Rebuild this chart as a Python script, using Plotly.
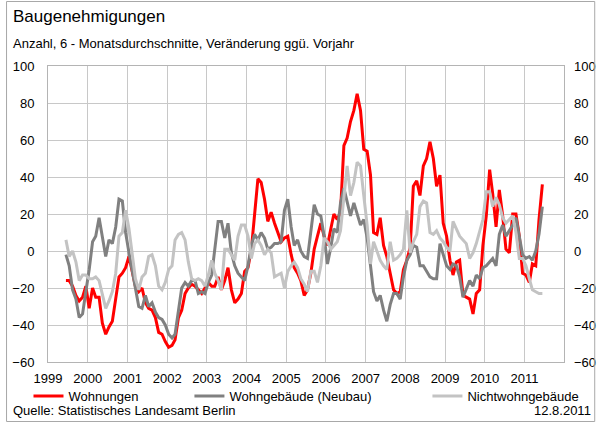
import plotly.graph_objects as go

# Monthly observations, June 1999 to June 2011 (change vs. previous year, %)
start_year, start_month, n_months = 1999, 6, 145
months = []
y, m = start_year, start_month
for _ in range(n_months):
    months.append(f"{y}-{m:02d}-15")
    m += 1
    if m > 12:
        m, y = 1, y + 1

wohnungen = [
    -16, -16, -19, -24, -27, -25, -19,                       # 1999
    -31, -20, -25, -25, -39, -45, -41, -38, -27, -14, -12, -9,  # 2000
    -3, -12, -19, -22, -20, -28, -31, -32, -36, -44, -45, -49,  # 2001
    -52, -51, -48, -36, -32, -23, -20, -18, -19, -21, -23, -20,  # 2002
    -17, -19, -19, -14, -21, -16, -9, -21, -28, -26, -23, -11,  # 2003
    -9, 1, 21, 39, 37, 28, 16, 21, 15, 10, 5, 7,                # 2004
    8, -2, -9, -12, -16, -24, -21, -12, 1, 8, 15, 8,            # 2005
    3, 12, 20, 17, 21, 57, 61, 70, 76, 85, 76, 55,              # 2006
    54, 41, 10, 9, 18, 3, -3, -12, -21, -23, -22, -10,          # 2007
    -5, 2, 35, 38, 30, 46, 50, 59, 50, 35, 41, 15,              # 2008
    8, -5, -13, -6, -5, -24, -25, -26, -34, -23, -21, 3,        # 2009
    19, 44, 31, 13, 33, 19, 1, -1, 20, 20, 8, -12,              # 2010
    -13, -17, -7, -8, 17, 36,                                   # 2011
]

wohngebaeude = [
    -2, -8, -21, -26, -36, -34, -22,                            # 1999
    -10, 5, 8, 18, 8, -3, 6, 4, 13, 28, 27, 10,                 # 2000
    -1, -11, -20, -30, -31, -24, -30, -28, -33, -36, -37, -40,  # 2001
    -45, -47, -45, -31, -20, -17, -19, -16, -16, -23, -22, -23,  # 2002
    -17, -13, 0, 16, 16, 7, 15, -1, -8, -12, -14, -16,          # 2003
    -8, 3, 9, 6, 10, 7, 1, 2, 4, 4, 5, 22,                      # 2004
    28, 13, 3, 6, 0, -3, -4, 12, 25, 20, 19, 8,                 # 2005
    -7, 2, 12, 10, 26, 34, 26, 19, 26, 20, 14, 17,              # 2006
    7, -8, -22, -27, -24, -32, -38, -29, -23, -23, -26, -14,    # 2007
    -5, -2, 3, 2, -8, -8, -11, -14, -15, -15, 4, -2,            # 2008
    -8, -10, -7, -8, -14, -25, -21, -16, -19, -13, -15, -9,     # 2009
    -8, -6, -4, -8, 9, 14, 8, 11, 14, 18, 8, -2,                # 2010
    -4, -3, -5, 0, 9, 24,                                       # 2011
]

nichtwohngebaeude = [
    6, -3, 0, -6, -16, -13, -13,                                # 1999
    -15, -15, -14, -16, -24, -31, -27, -22, -12, 8, 10, 22,     # 2000
    12, -3, -15, -21, -14, -12, -3, -2, -8, -19, -21, -17,      # 2001
    -10, -8, 6, 9, 10, 6, -6, -15, -16, -15, -16, -19,          # 2002
    -13, -5, -12, -16, -21, 1, 1, -2, -5, 8, 14, 14,            # 2003
    8, -4, 4, 6, 3, -2, 1, -1, -14, -13, -12, -20,              # 2004
    -11, -8, -6, -9, -15, -18, -22, -11, -11, -17, -8, 7,       # 2005
    5, 1, 3, 5, 11, 27, 46, 30, 37, 48, 46, 30,                 # 2006
    14, -7, 5, 0, -5, -8, -10, 5, -5, -4, -2, 1,                # 2007
    22, -1, 5, 9, 24, 27, 26, 10, 9, 11, 7, 5,                  # 2008
    2, 0, 16, 12, 8, 6, 4, -4, -1, 4, 10, 17,                   # 2009
    32, 32, 24, 29, 25, 18, 15, 17, 19, 10, -4, -4,             # 2010
    -8, -15, -21, -22, -23, -23,                                # 2011
]

series_names = ["Wohnungen", "Wohngebäude (Neubau)", "Nichtwohngebäude"]
series_colors = ["#FF0000", "#808080", "#C3C3C3"]
y_ticks = list(range(-60, 101, 20))

FONT = "Liberation Sans, Arial, sans-serif"
W, H = 608, 423
L, R, T, B = 45, 34, 66, 61
PW, PH = W - L - R, H - T - B


def px(x):
    return (x - L) / PW


def py(y):
    return (H - B - y) / PH


fig = go.Figure()
for name, vals, col, lg, ax in zip(
    series_names,
    [wohnungen, wohngebaeude, nichtwohngebaeude],
    series_colors,
    ["legend", "legend2", "legend3"],
    ["y", "y", "y2"],
):
    fig.add_trace(go.Scatter(
        x=months, y=vals, name=name, mode="lines",
        line=dict(color=col, width=3),
        legend=lg, yaxis=ax, hoverinfo="skip",
    ))

grid = "#C8C8C8"
axis_line = "#B4B4B4"
tick_font = dict(family=FONT, size=13, color="#000000")

legend_common = dict(
    orientation="h", xanchor="left", yanchor="middle",
    font=tick_font, bgcolor="rgba(0,0,0,0)", borderwidth=0,
    itemwidth=30, tracegroupgap=0,
)

fig.update_layout(
    width=W, height=H,
    margin=dict(l=L, r=R, t=T, b=B),
    paper_bgcolor="white", plot_bgcolor="white",
    font=dict(family=FONT, size=13, color="#000000"),
    xaxis=dict(
        type="date", range=["1999-01-01", "2011-12-31"],
        tick0="1999-01-01", dtick="M12", tickformat="%Y",
        showgrid=True, gridcolor=grid, gridwidth=1,
        showline=True, linecolor=axis_line, linewidth=1, mirror=True,
        ticks="", tickfont=tick_font, ticklabelstandoff=4,
    ),
    yaxis=dict(
        range=[-60, 100], tickvals=y_ticks,
        showgrid=True, gridcolor=grid, gridwidth=1, zeroline=False,
        showline=True, linecolor=axis_line, linewidth=1, mirror=True,
        ticks="", tickfont=tick_font, ticklabelstandoff=10,
    ),
    yaxis2=dict(
        range=[-60, 100], tickvals=y_ticks, overlaying="y", side="right",
        showgrid=False, zeroline=False, showline=False,
        ticks="", tickfont=tick_font, ticklabelstandoff=9,
    ),
    legend=dict(x=px(25), y=py(396), **legend_common),
    legend2=dict(x=px(190), y=py(396), **legend_common),
    legend3=dict(x=px(434), y=py(396), **legend_common),
    showlegend=True,
)

notes = [
    dict(text="Baugenehmigungen", x=px(7), y=py(17), xanchor="left", size=17),
    dict(text="Anzahl, 6 - Monatsdurchschnitte, Veränderung ggü. Vorjahr",
         x=px(7), y=py(44), xanchor="left", size=13),
    dict(text="Quelle: Statistisches Landesamt Berlin",
         x=px(7), y=py(410), xanchor="left", size=13),
    dict(text="12.8.2011", x=px(604), y=py(410), xanchor="right", size=13),
]
for n in notes:
    fig.add_annotation(
        text=n["text"], x=n["x"], y=n["y"], xref="paper", yref="paper",
        xanchor=n["xanchor"], yanchor="middle", showarrow=False,
        font=dict(family=FONT, size=n["size"], color="#000000"),
    )

# thin frame around the whole graphic
fig.add_shape(
    type="rect", xref="paper", yref="paper",
    x0=px(2.5), x1=px(605.5), y0=py(421.5), y1=py(1.5),
    line=dict(color="#A8A8A8", width=1), fillcolor="rgba(0,0,0,0)",
    layer="above",
)

fig.write_html("out.html")
